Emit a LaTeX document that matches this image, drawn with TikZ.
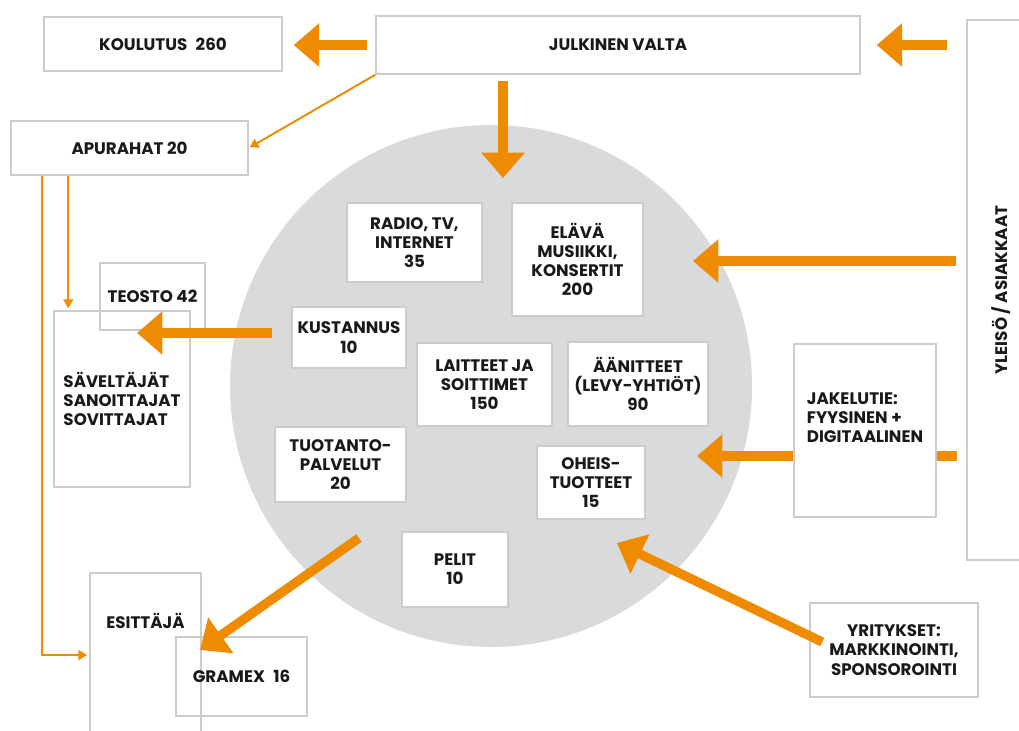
\documentclass[tikz,border=0pt]{standalone}
\usepackage{fontspec}
\setmainfont{Poppins}
\usetikzlibrary{arrows.meta}

\definecolor{flow}{RGB}{238,139,0}
\definecolor{disc}{RGB}{217,218,220}
\definecolor{frame}{RGB}{204,204,204}
\def\px{0.02cm}

\tikzset{
  tag/.style={font=\bfseries\fontsize{9.5}{10.9}\selectfont, align=center, text=black!90},
  box/.style={tag, draw=frame, line width=0.85pt, inner sep=0},
  card/.style={box, fill=white},
  size/.style 2 args={minimum width=#1*\px, minimum height=#2*\px},
  bigflow/.style={flow, line width=5.3pt, -{Triangle[length=14.5pt, width=24pt]}},
  bigshaft/.style={flow, line width=5.3pt},
  thinflow/.style={flow, line width=1.1pt, -{Triangle[length=5pt, width=5.5pt]}},
}

\begin{document}
\begin{tikzpicture}[x=\px, y=-\px]

    % Frame of the page
    \useasboundingbox (0,0) rectangle (1019,731);
    \fill[white] (0,0) rectangle (1019,731);
    \clip (0,0) rectangle (1019,731);

    % Music sector
    \node[circle, fill=disc, minimum size=522*\px, inner sep=0] (disc) at (491,386) {};

    \node[card, size={135}{79}] (radio) at (414.5,242.5) {RADIO, TV,\\INTERNET\\35};
    \node[card, size={131}{113}] (elava) at (577.5,259.5) {ELÄVÄ\\MUSIIKKI,\\KONSERTIT\\200};
    \node[card, size={114}{61}] (kust) at (349,337.5) {KUSTANNUS\\10};
    \node[card, size={135}{83}] (lait) at (484.5,384.5) {LAITTEET JA\\SOITTIMET\\150};
    \node[card, size={140}{84}] (aani) at (638,384) {ÄÄNITTEET\\(LEVY-YHTIÖT)\\90};
    \node[card, size={131}{75}] (tuot) at (340.5,464.5) {TUOTANTO-\\PALVELUT\\20};
    \node[card, size={108}{73}] (oheis) at (591,482.5) {OHEIS-\\TUOTTEET\\15};
    \node[card, size={106}{75}] (pelit) at (455,569.5) {PELIT\\10};

    % Surrounding actors
    \node[box, size={238}{54}] (koul) at (163,44) {KOULUTUS\enspace 260};
    \node[box, size={484}{58}] (jv) at (618,45) {JULKINEN VALTA};
    \node[box, size={237}{54}] (apu) at (129.5,148) {APURAHAT 20};
    \node[box, size={105}{67}] (teosto) at (152.5,296.5) {TEOSTO 42};
    \node[box, size={136}{176}, align=left] (savel) at (122,399) {SÄVELTÄJÄT\\SANOITTAJAT\\SOVITTAJAT};
    \node[box, size={111}{164}, label={[tag, shift={(0,-34)}]center:ESITTÄJÄ}] (esit) at (145.5,655) {};
    \node[box, size={131}{79}] (gramex) at (241.5,676.5) {GRAMEX\enspace 16};
    \node[box, size={142}{173}, label={[tag, align=left, shift={(0,-13)}]center:{JAKELUTIE:\\FYYSINEN +\\DIGITAALINEN}}] (jak) at (865,430.5) {};
    \node[box, size={68}{540}] (yleiso) at (1001,290) {\rotatebox{90}{YLEISÖ / ASIAKKAAT}};
    \node[box, size={168}{94}] (yrit) at (894,650) {YRITYKSET:\\MARKKINOINTI,\\SPONSOROINTI};

    % Free ends of the flows
    \coordinate (fund) at (503,178);
    \coordinate (royalty) at (137,333);
    \coordinate (livein) at (693,261);
    \coordinate (salesin) at (697,456);
    \coordinate (sponsorin) at (617,543);
    \coordinate (perform) at (359,538);
    \coordinate (gramexin) at (200,650);

    % Money flows
    \draw[bigflow, shorten <=8*\px, shorten >=11*\px] (jv.west) -- (koul.east |- jv.west);
    \draw[bigflow, shorten <=19*\px, shorten >=16*\px] (yleiso.west |- jv.east) -- (jv.east);
    \draw[bigflow, shorten <=6*\px] (jv.south -| fund) -- (fund);
    \draw[thinflow, shorten >=1*\px] (jv.south west) -- (apu.east);
    \draw[thinflow] ([shift={(58,0)}]apu.south west) -- ([shift={(15,-2)}]savel.north west);
    \draw[thinflow] ([shift={(32,0)}]apu.south west) |- ([shift={(-2,0)}]esit.west);
    \draw[bigflow, shorten <=19*\px] (kust.west |- royalty) -- (royalty);
    \draw[bigflow, shorten <=10*\px] (yleiso.west |- livein) -- (livein);
    \draw[bigshaft, shorten <=9*\px] (yleiso.west |- salesin) -- (jak.east |- salesin);
    \draw[bigflow] (jak.west |- salesin) -- (salesin);
    \draw[bigflow] ([shift={(13,-8)}]yrit.west) -- (sponsorin);
    \draw[bigflow] (perform) -- (gramexin);

\end{tikzpicture}
\end{document}
